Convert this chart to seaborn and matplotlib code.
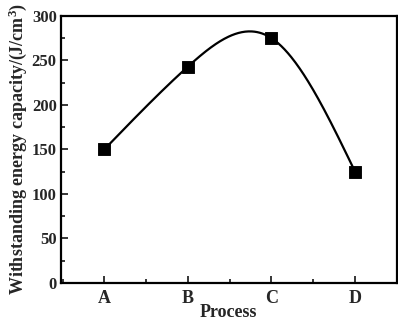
import numpy as np
import pandas as pd
import seaborn as sns
import matplotlib.pyplot as plt
from matplotlib.ticker import MultipleLocator

processes = ['A', 'B', 'C', 'D']
capacity = [150, 243, 275, 125]


def natural_spline(x, y, xs):
    # natural cubic spline through the points (second derivative 0 at both ends)
    x = np.asarray(x, float)
    y = np.asarray(y, float)
    n = len(x)
    h = np.diff(x)
    A = np.zeros((n, n))
    b = np.zeros(n)
    A[0, 0] = A[-1, -1] = 1
    for i in range(1, n - 1):
        A[i, i - 1] = h[i - 1]
        A[i, i] = 2 * (h[i - 1] + h[i])
        A[i, i + 1] = h[i]
        b[i] = 6 * ((y[i + 1] - y[i]) / h[i] - (y[i] - y[i - 1]) / h[i - 1])
    M = np.linalg.solve(A, b)
    idx = np.clip(np.searchsorted(x, xs) - 1, 0, n - 2)
    x0, x1, hi = x[idx], x[idx + 1], h[idx]
    return (M[idx] * (x1 - xs) ** 3 / (6 * hi) + M[idx + 1] * (xs - x0) ** 3 / (6 * hi)
            + (y[idx] / hi - M[idx] * hi / 6) * (x1 - xs)
            + (y[idx + 1] / hi - M[idx + 1] * hi / 6) * (xs - x0))


sns.set_style('ticks')
plt.rcParams['font.family'] = ['Liberation Serif', 'DejaVu Serif']
plt.rcParams['mathtext.fontset'] = 'custom'
plt.rcParams['mathtext.rm'] = 'Liberation Serif:bold'
plt.rcParams['mathtext.it'] = 'Liberation Serif:bold'
plt.rcParams['mathtext.bf'] = 'Liberation Serif:bold'
plt.rcParams['font.weight'] = 'bold'

df = pd.DataFrame({'pos': np.arange(len(processes)), 'capacity': capacity})
xs = np.linspace(0, len(processes) - 1, 300)
smooth = pd.DataFrame({'pos': xs, 'capacity': natural_spline(df['pos'], df['capacity'], xs)})

fig = plt.figure(figsize=(3.98, 3.24), dpi=100)
ax = fig.add_axes([0.153, 0.127, 0.844, 0.824])

sns.lineplot(data=smooth, x='pos', y='capacity', color='black', linewidth=1.6, ax=ax)
sns.scatterplot(data=df, x='pos', y='capacity', marker='s', s=64, color='black',
                edgecolor='black', zorder=3, ax=ax)

ax.set_xlim(-0.52, 3.5)
ax.set_ylim(0, 300)
ax.set_xticks(df['pos'])
ax.set_xticklabels(processes)
ax.xaxis.set_minor_locator(MultipleLocator(0.5))
ax.yaxis.set_major_locator(MultipleLocator(50))
ax.yaxis.set_minor_locator(MultipleLocator(25))
ax.tick_params(which='both', direction='in', width=1.3, labelsize=12, pad=3)
ax.tick_params(axis='x', which='major', labelsize=13, pad=5)
ax.tick_params(which='major', length=5)
ax.tick_params(which='minor', length=3)
for s in ax.spines.values():
    s.set_linewidth(1.6)
    s.set_color('black')

ax.set_xlabel('Process', fontsize=13, fontweight='bold', labelpad=-2)
ax.set_ylabel(r'Withstanding energy capacity/(J/cm$^3$)', fontsize=13,
              fontweight='bold', labelpad=2)

fig.savefig('out.png', dpi=100)
